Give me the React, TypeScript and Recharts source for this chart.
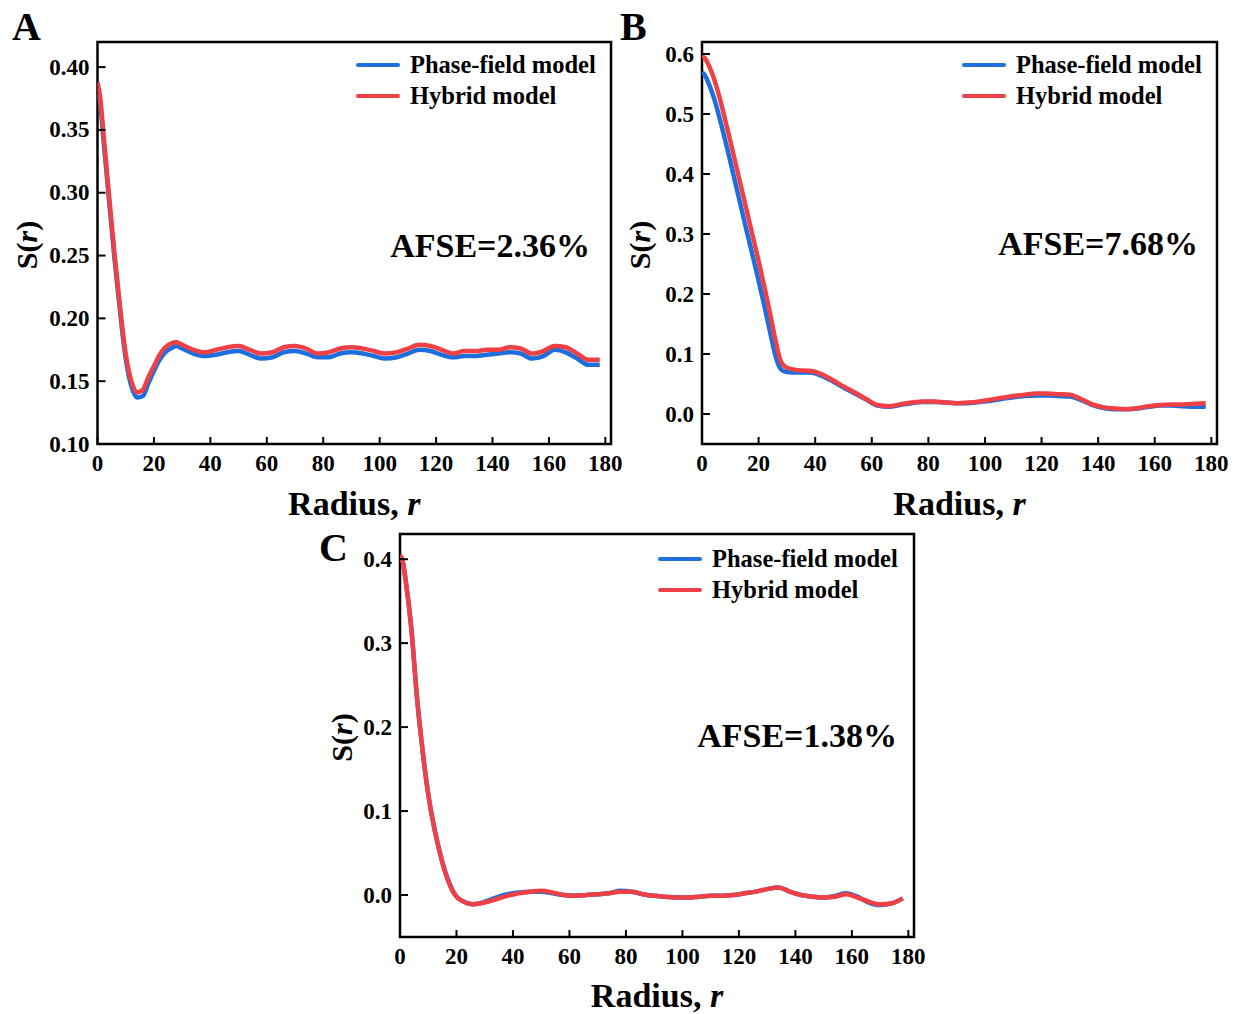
import { LineChart, Line, XAxis, YAxis, Legend, ReferenceArea } from "recharts";

// radius grid shared by the three panels
const radius = [
	0, 1, 2, 4, 6, 8, 10, 12, 14, 16, 18, 20, 22, 24, 26, 28,
	30, 34, 38, 42, 46, 50, 54, 58, 62, 66, 70, 74, 78, 82, 86, 90, 94, 98, 102, 106,
	110, 114, 118, 122, 126, 130, 134, 138, 142, 146, 150, 154, 158, 162, 166, 170, 174, 178,
];

// panel A
const phaseA = [
	0.378, 0.37, 0.345, 0.296, 0.248, 0.205, 0.168, 0.146, 0.137, 0.138, 0.148, 0.158, 0.167, 0.173, 0.176, 0.178,
	0.176, 0.172, 0.17, 0.171, 0.173, 0.174, 0.171, 0.168, 0.169, 0.173, 0.174, 0.172, 0.169, 0.169, 0.172, 0.173, 0.172, 0.17, 0.168, 0.169,
	0.172, 0.175, 0.174, 0.171, 0.169, 0.17, 0.17, 0.171, 0.172, 0.173, 0.172, 0.168, 0.17, 0.175, 0.173, 0.168, 0.163, 0.163,
];
const hybridA = [
	0.388, 0.375, 0.35, 0.3, 0.252, 0.209, 0.172, 0.15, 0.141, 0.143, 0.153, 0.162, 0.171, 0.177, 0.18, 0.181,
	0.179, 0.175, 0.173, 0.175, 0.177, 0.178, 0.175, 0.172, 0.173, 0.177, 0.178, 0.176, 0.172, 0.173, 0.176, 0.177, 0.176, 0.174, 0.172, 0.173,
	0.176, 0.179, 0.178, 0.175, 0.172, 0.174, 0.174, 0.175, 0.175, 0.177, 0.176, 0.172, 0.174, 0.178, 0.177, 0.172, 0.167, 0.167,
];

// panel B
const phaseB = [
	0.569, 0.565, 0.555, 0.53, 0.497, 0.46, 0.421, 0.381, 0.341, 0.301, 0.262, 0.222, 0.181, 0.138, 0.096, 0.074,
	0.07, 0.069, 0.069, 0.064, 0.055, 0.044, 0.034, 0.024, 0.014, 0.012, 0.015, 0.018, 0.02, 0.02, 0.019, 0.018, 0.018, 0.02, 0.022, 0.025,
	0.028, 0.03, 0.031, 0.031, 0.03, 0.029, 0.023, 0.015, 0.01, 0.008, 0.008, 0.009, 0.012, 0.014, 0.014, 0.013, 0.012, 0.012,
];
const hybridB = [
	0.597, 0.593, 0.585, 0.562, 0.531, 0.494, 0.455, 0.415, 0.375, 0.335, 0.295, 0.255, 0.213, 0.169, 0.122, 0.086,
	0.077, 0.073, 0.072, 0.067, 0.057, 0.046, 0.036, 0.025, 0.015, 0.013, 0.016, 0.019, 0.021, 0.021, 0.019, 0.018, 0.019, 0.021, 0.024, 0.027,
	0.03, 0.032, 0.034, 0.034, 0.033, 0.032, 0.025, 0.016, 0.011, 0.009, 0.008, 0.01, 0.013, 0.015, 0.016, 0.016, 0.017, 0.018,
];

// panel C
const phaseC = [
	0.405, 0.397, 0.375, 0.318, 0.236, 0.172, 0.12, 0.082, 0.052, 0.028, 0.01, -0.002, -0.007, -0.01, -0.011, -0.01,
	-0.008, -0.003, 0.001, 0.003, 0.004, 0.004, 0.002, 0.0, -0.001, 0.0, 0.001, 0.002, 0.005, 0.004, 0.001, -0.001, -0.002, -0.003, -0.003, -0.002,
	-0.001, -0.001, 0.0, 0.002, 0.004, 0.007, 0.009, 0.004, 0.0, -0.002, -0.003, -0.001, 0.002, -0.002, -0.009, -0.012, -0.01, -0.004,
];
const hybridC = [
	0.405, 0.397, 0.375, 0.318, 0.236, 0.172, 0.12, 0.082, 0.052, 0.027, 0.009, -0.002, -0.007, -0.01, -0.011, -0.01,
	-0.009, -0.005, -0.001, 0.002, 0.004, 0.005, 0.003, 0.0, -0.001, 0.0, 0.001, 0.002, 0.004, 0.004, 0.001, -0.001, -0.002, -0.003, -0.003, -0.002,
	-0.001, -0.001, 0.0, 0.002, 0.004, 0.007, 0.009, 0.004, 0.0, -0.002, -0.003, -0.002, 0.001, -0.003, -0.008, -0.011, -0.01, -0.004,
];

const xTicks = [0, 20, 40, 60, 80, 100, 120, 140, 160, 180];
const yTicksA = [0.1, 0.15, 0.2, 0.25, 0.3, 0.35, 0.4];
const yTicksB = [0, 0.1, 0.2, 0.3, 0.4, 0.5, 0.6];
const yTicksC = [0, 0.1, 0.2, 0.3, 0.4];
const legendOrder = ["Phase-field model", "Hybrid model"];

const FONT = "'Liberation Serif', 'Times New Roman', Times, serif";
const BLUE = "#1d6fde";
const RED = "#ef4046";
const X_MAX = 182;

const rows = (phase: number[], hybrid: number[]) =>
	radius.map((r, i) => ({ r, phase: phase[i], hybrid: hybrid[i] }));

function XTick(props: any) {
	const { x, y, payload } = props;
	return (
		<g>
			<line x1={x} y1={y} x2={x} y2={y - 7} stroke="#000" strokeWidth={2} />
			<text x={x} y={y + 27} textAnchor="middle" fontFamily={FONT} fontWeight={700} fontSize={23} fill="#000">
				{payload.value}
			</text>
		</g>
	);
}

const yTick = (decimals: number) => (props: any) => {
	const { x, y, payload } = props;
	return (
		<g>
			<line x1={x} y1={y} x2={x + 8} y2={y} stroke="#000" strokeWidth={2} />
			<text x={x - 8} y={y + 7.5} textAnchor="end" fontFamily={FONT} fontWeight={700} fontSize={23} fill="#000">
				{Number(payload.value).toFixed(decimals)}
			</text>
		</g>
	);
};

function PanelLegend(props: any) {
	const items = [...(props.payload || [])].sort(
		(a: any, b: any) => legendOrder.indexOf(a.value) - legendOrder.indexOf(b.value)
	);
	return (
		<svg width={270} height={60} style={{ display: "block", overflow: "visible" }}>
			{items.map((e: any, i: number) => (
				<g key={e.value}>
					<line x1={2} x2={42} y1={10 + i * 31} y2={10 + i * 31} stroke={e.color} strokeWidth={4} strokeLinecap="round" />
					<text x={54} y={18 + i * 31} fontFamily={FONT} fontWeight={700} fontSize={24.5} fill="#000">
						{e.value}
					</text>
				</g>
			))}
		</svg>
	);
}

type PanelCfg = {
	left: number;
	top: number;
	width: number;
	height: number;
	margin: { top: number; right: number; bottom: number; left: number };
	data: { r: number; phase: number; hybrid: number }[];
	yDomain: [number, number];
	yTicks: number[];
	decimals: number;
	yTitleX: number;
	xTitleDy: number;
	legendLeft: number;
	legendTop: number;
};

function Panel({ cfg }: { cfg: PanelCfg }) {
	return (
		<div style={{ position: "absolute", left: cfg.left, top: cfg.top }}>
			<LineChart width={cfg.width} height={cfg.height} data={cfg.data} margin={cfg.margin}>
				<XAxis
					dataKey="r"
					type="number"
					domain={[0, X_MAX]}
					ticks={xTicks}
					interval={0}
					tick={XTick}
					tickSize={0}
					tickMargin={0}
					tickLine={false}
					axisLine={false}
					height={40}
					allowDataOverflow
					label={(p: any) => {
						const vb = p.viewBox;
						return (
							<text x={vb.x + vb.width / 2} y={vb.y + cfg.xTitleDy} textAnchor="middle" fontFamily={FONT} fontWeight={700} fontSize={34} fill="#000">
								Radius, <tspan fontStyle="italic">r</tspan>
							</text>
						);
					}}
				/>
				<YAxis
					type="number"
					domain={cfg.yDomain}
					ticks={cfg.yTicks}
					interval={0}
					tick={yTick(cfg.decimals)}
					tickSize={0}
					tickMargin={0}
					tickLine={false}
					axisLine={false}
					width={60}
					allowDataOverflow
					label={(p: any) => {
						const vb = p.viewBox;
						const cx = cfg.yTitleX;
						const cy = vb.y + vb.height / 2 + 2;
						return (
							<text x={cx} y={cy} transform={`rotate(-90 ${cx} ${cy})`} textAnchor="middle" dominantBaseline="central" fontFamily={FONT} fontWeight={700} fontSize={30} fill="#000">
								S(<tspan fontStyle="italic">r</tspan>)
							</text>
						);
					}}
				/>
				<Line type="monotone" dataKey="phase" name="Phase-field model" stroke={BLUE} strokeWidth={4.5} dot={false} isAnimationActive={false} />
				<Line type="monotone" dataKey="hybrid" name="Hybrid model" stroke={RED} strokeWidth={4.5} dot={false} isAnimationActive={false} />
				<ReferenceArea x1={0} x2={X_MAX} y1={cfg.yDomain[0]} y2={cfg.yDomain[1]} fill="none" stroke="#000" strokeWidth={2.5} ifOverflow="visible" />
				<Legend
					content={PanelLegend}
					layout="horizontal"
					verticalAlign="middle"
					align="center"
					wrapperStyle={{ left: cfg.legendLeft, top: cfg.legendTop, width: 270, height: 60 }}
				/>
			</LineChart>
		</div>
	);
}

const panels: PanelCfg[] = [
	{
		left: 0, top: 0, width: 625, height: 530,
		margin: { top: 42, right: 14, bottom: 46, left: 37.5 },
		data: rows(phaseA, hybridA), yDomain: [0.1, 0.42], yTicks: yTicksA, decimals: 2,
		yTitleX: 26, xTitleDy: 71, legendLeft: 356, legendTop: 55,
	},
	{
		left: 610, top: 0, width: 625, height: 530,
		margin: { top: 42, right: 18, bottom: 46, left: 32 },
		data: rows(phaseB, hybridB), yDomain: [-0.05, 0.62], yTicks: yTicksB, decimals: 1,
		yTitleX: 29, xTitleDy: 71, legendLeft: 352, legendTop: 55,
	},
	{
		left: 300, top: 486, width: 625, height: 528,
		margin: { top: 48, right: 11, bottom: 37, left: 40 },
		data: rows(phaseC, hybridC), yDomain: [-0.05, 0.43], yTicks: yTicksC, decimals: 1,
		yTitleX: 41, xTitleDy: 70, legendLeft: 358, legendTop: 63,
	},
];

const notes = [
	{ letter: "A", lx: 12, ly: 40, afse: "AFSE=2.36%", ax: 590, ay: 257 },
	{ letter: "B", lx: 620, ly: 40, afse: "AFSE=7.68%", ax: 1198, ay: 255 },
	{ letter: "C", lx: 319, ly: 561, afse: "AFSE=1.38%", ax: 897, ay: 747 },
];

export default function App() {
	return (
		<div style={{ position: "absolute", left: 0, top: 0, width: 1235, height: 1014, background: "#fff" }}>
			{panels.map((p, i) => (
				<Panel key={i} cfg={p} />
			))}
			<svg width={1235} height={1014} style={{ position: "absolute", left: 0, top: 0, pointerEvents: "none" }}>
				{notes.map((n) => (
					<g key={n.letter}>
						<text x={n.lx} y={n.ly} fontFamily={FONT} fontWeight={700} fontSize={40} fill="#000">
							{n.letter}
						</text>
						<text x={n.ax} y={n.ay} textAnchor="end" fontFamily={FONT} fontWeight={700} fontSize={34} fill="#000">
							{n.afse}
						</text>
					</g>
				))}
			</svg>
		</div>
	);
}
